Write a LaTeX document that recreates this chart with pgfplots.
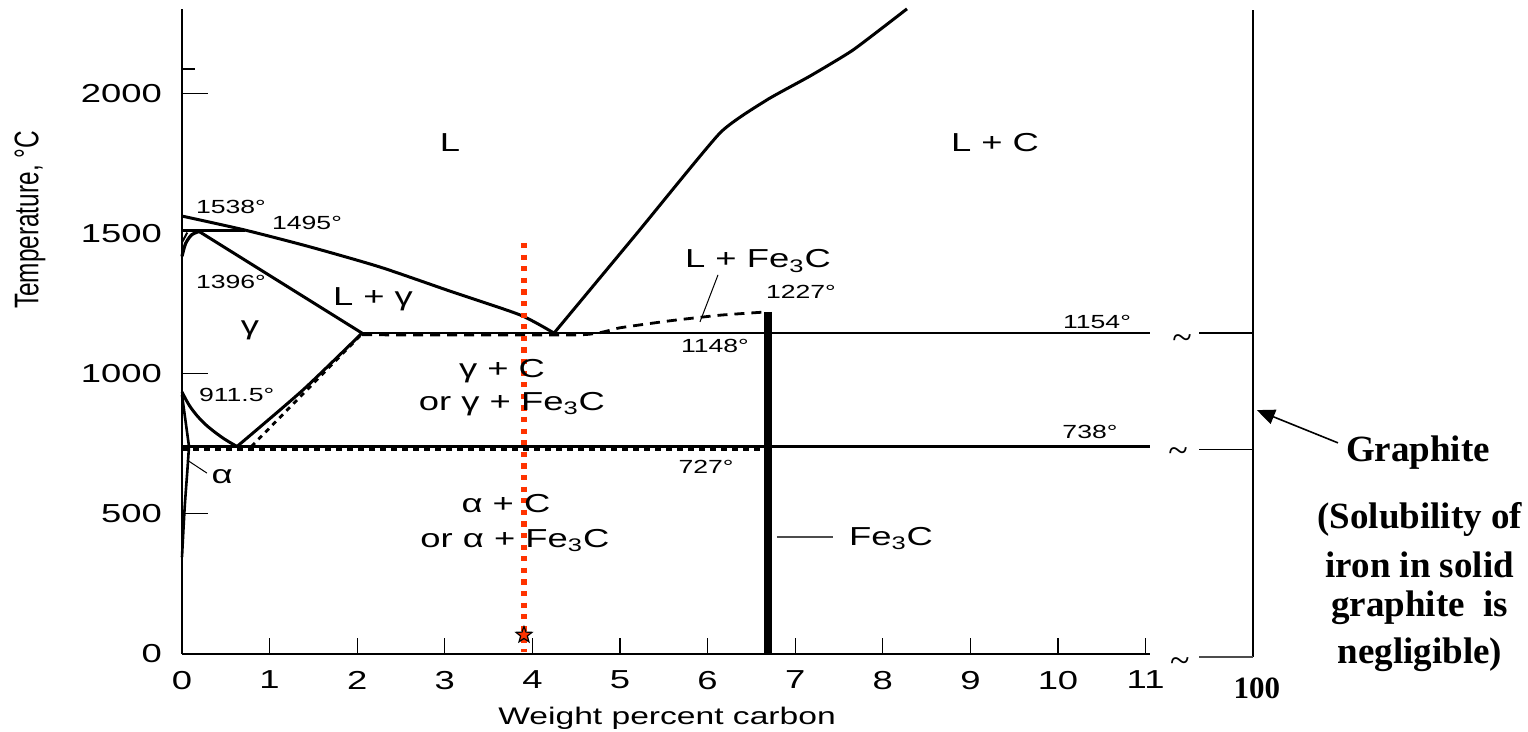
\documentclass[border=0pt]{standalone}
\usepackage{pgfplots}
\pgfplotsset{compat=1.18}
\usepackage{graphicx}
\usepackage{fontspec}
\setmainfont{Liberation Sans}[FakeStretch=1.4]
\newfontfamily\plainsans{Liberation Sans}
\newfontfamily\tnr{Liberation Serif}
\usetikzlibrary{arrows.meta}
\definecolor{redor}{RGB}{255,51,0}
\newcommand{\fs}[1]{\fontsize{#1}{#1}\selectfont}
\pgfdeclareplotmark{fstar}{%
  \pgfpathmoveto{\pgfpointpolar{90}{\pgfplotmarksize}}%
  \pgfpathlineto{\pgfpointpolar{126}{0.42\pgfplotmarksize}}%
  \pgfpathlineto{\pgfpointpolar{162}{\pgfplotmarksize}}%
  \pgfpathlineto{\pgfpointpolar{198}{0.42\pgfplotmarksize}}%
  \pgfpathlineto{\pgfpointpolar{234}{\pgfplotmarksize}}%
  \pgfpathlineto{\pgfpointpolar{270}{0.42\pgfplotmarksize}}%
  \pgfpathlineto{\pgfpointpolar{306}{\pgfplotmarksize}}%
  \pgfpathlineto{\pgfpointpolar{342}{0.42\pgfplotmarksize}}%
  \pgfpathlineto{\pgfpointpolar{18}{\pgfplotmarksize}}%
  \pgfpathlineto{\pgfpointpolar{54}{0.42\pgfplotmarksize}}%
  \pgfpathclose
  \pgfusepathqfillstroke
}
\begin{document}
\begin{tikzpicture}
\path[use as bounding box] (0,0) rectangle (764pt,366pt);
\begin{axis}[
  at={(91pt,39pt)}, anchor=south west,
  x=43.8pt, y=0.14pt,
  xmin=0, xmax=15, ymin=0, ymax=2330,
  axis lines=left, axis line style={draw=none},
  clip=false,
  xtick={0,1,2,3,4,5,6,7,8,9,10,11},
  xticklabels={0,1,2,3,4,5,6,7,8,9,10,11},
  ytick={0,500,1000,1500,2000},
  yticklabels={0,500,1000,1500,2000},
  tick align=inside, major tick length=8pt,
  xtick style={black, line width=0.6pt},
  ytick style={draw=none},
  ticklabel style={font=\fs{13}},
  xticklabel style={yshift=-5pt},
  yticklabel style={xshift=-6.5pt},
]
% axes frame pieces
\addplot[black, line width=1pt] coordinates {(0,0) (0,2305)};
\addplot[black, line width=0.9pt] coordinates {(0,0) (11.05,0)};
\addplot[black, line width=0.5pt] coordinates {(0,500) (0.297,500)};
\addplot[black, line width=0.5pt] coordinates {(0,1000) (0.297,1000)};
\addplot[black, line width=0.5pt] coordinates {(0,2000) (0.297,2000)};
\addplot[black, line width=1.2pt] coordinates {(0,2089) (0.148,2089)};
% right (graphite) axis
\addplot[black, line width=0.9pt] coordinates {(12.226,-11) (12.226,2300)};
\addplot[black, line width=0.9pt] coordinates {(11.61,1146) (12.226,1146)};
\addplot[black, line width=0.9pt] coordinates {(11.61,730) (12.226,730)};
\addplot[black!70, line width=0.9pt] coordinates {(11.61,-11) (12.226,-11)};
% liquidus (L / L+gamma)
\addplot[black, line width=1.5pt, line join=round, smooth, tension=0.4] coordinates {(0,1564) (0.719,1514) (1.461,1454) (2.26,1382) (3.059,1296) (3.858,1211) (4.247,1146)};
% peritectic line
\addplot[black, line width=1.5pt] coordinates {(0,1514) (0.719,1514)};
% delta region
\addplot[black, line width=1.6pt, line join=round, smooth] coordinates {(0,1420) (0.04,1465) (0.11,1497) (0.205,1510)};
\addplot[black, line width=1pt] coordinates {(0,1470) (0.06,1505)};
% solidus gamma
\addplot[black, line width=1.5pt] coordinates {(0.205,1507) (2.055,1146)};
% eutectic 1154
\addplot[black, line width=1.2pt] coordinates {(2.055,1146) (11.05,1146)};
% metastable 1148 + Fe3C liquidus (dashed)
\addplot[black, line width=1.4pt, dash pattern=on 5pt off 3.5pt, smooth, tension=0.3] coordinates {(2.055,1140) (4.543,1140) (5.0,1165) (5.571,1190) (6.142,1210) (6.69,1222)};
% graphite liquidus
\addplot[black, line width=1.5pt, line join=round, smooth, tension=0.3] coordinates {(4.247,1146) (5.2,1505) (6.142,1861) (6.678,1979) (7.169,2064) (7.660,2157) (8.276,2304)};
% Acm solid and dashed
\addplot[black, line width=1.5pt, line join=round, smooth, tension=0.4] coordinates {(2.055,1146) (1.381,943) (0.628,741)};
\addplot[black, line width=1.4pt, dash pattern=on 2.5pt off 2.5pt] coordinates {(2.032,1136) (0.776,736)};
% A3
\addplot[black, line width=1.5pt, line join=round, smooth, tension=0.6] coordinates {(0,936) (0.1,880) (0.25,825) (0.45,775) (0.628,741)};
% eutectoid 738 (stable) and 727 (metastable)
\addplot[black, line width=1.2pt] coordinates {(0,741) (11.05,741)};
\addplot[black, line width=1.6pt, dash pattern=on 3pt off 2.5pt] coordinates {(0,730) (6.69,730)};
% alpha region
\addplot[black, line width=1.3pt] coordinates {(0,925) (0.08,741)};
\addplot[black, line width=1.3pt, line join=round, smooth] coordinates {(0.08,741) (0.06,650) (0.03,520) (0,346)};
% Fe3C line
\addplot[black, line width=4pt] coordinates {(6.69,1222) (6.69,0)};
% leaders
\addplot[black, line width=0.5pt] coordinates {(0.057,693) (0.285,646)};
\addplot[black, line width=0.5pt] coordinates {(6.119,1354) (5.913,1186)};
\addplot[black!70, line width=0.6pt] coordinates {(6.792,418) (7.432,418)};
% red dotted composition line and star
\addplot[redor, line width=2.6pt, dash pattern=on 2.6pt off 3.2pt] coordinates {(3.904,1468) (3.904,7)};
\addplot[only marks, mark=fstar, mark size=4.2pt, mark options={fill=redor, draw=black, line width=0.6pt}] coordinates {(3.904,68)};
% labels
\node[font=\fs{13}] at (3.059,1825) {L};
\node[font=\fs{13}] at (9.281,1825) {L + C};
\node[font=\fs{9.5}] at (0.559,1596) {1538°};
\node[font=\fs{9.5}] at (1.427,1539) {1495°};
\node[font=\fs{9.5}] at (0.559,1327) {1396°};
\node[font=\fs{13}] at (2.18,1268) {L + γ};
\node[font=\fs{13}] at (0.776,1157) {γ};
\node[font=\fs{13}, anchor=base] at (6.575,1379) {L + Fe\textsubscript{3}C};
\node[font=\fs{9.5}] at (7.066,1293) {1227°};
\node[font=\fs{9.5}] at (10.445,1186) {1154°};
\node[font=\fs{9.5}] at (6.084,1100) {1148°};
\node[font=\fs{13}, anchor=base] at (3.653,989) {γ + C};
\node[font=\fs{13}, anchor=base] at (3.767,871) {or γ + Fe\textsubscript{3}C};
\node[font=\fs{9.5}] at (0.624,925) {911.5°};
\node[font=\fs{9.5}] at (10.365,793) {738°};
\node[font=\fs{9.5}] at (5.982,668) {727°};
\node[font=\fs{13}] at (0.457,632) {α};
\node[font=\fs{13}, anchor=base] at (3.699,507) {α + C};
\node[font=\fs{13}, anchor=base] at (3.80,382) {or α + Fe\textsubscript{3}C};
\node[font=\fs{13}, anchor=base] at (8.094,389) {Fe\textsubscript{3}C};
\node[rotate=90] at (-1.735,1550) {\scalebox{1}[1.4]{\plainsans\fs{12.2}Temperature, °C}};
\node[font=\fs{12}] at (5.537,-229) {Weight percent carbon};
% right annotations
\node[font={\tnr\fs{18}}] at (11.416,1114) {\textasciitilde};
\node[font={\tnr\fs{18}}] at (11.37,711) {\textasciitilde};
\node[font={\tnr\fs{18}}] at (11.39,-39) {\textasciitilde};
\node[font={\tnr\bfseries\fs{15.5}}] at (12.27,-121) {100};
\draw[black, line width=0.8pt, -{Triangle[length=9pt,width=7.5pt]}] (13.196,754) -- (12.27,871);
\node[font={\tnr\bfseries\fs{18.5}}] at (14.11,721) {Graphite};
\node[font={\tnr\bfseries\fs{18.5}}] at (14.13,479) {(Solubility of};
\node[font={\tnr\bfseries\fs{18.5}}] at (14.13,318) {iron in solid};
\node[font={\tnr\bfseries\fs{18.5}}] at (14.13,164) {graphite\ \ is};
\node[font={\tnr\bfseries\fs{18.5}}] at (14.13,-4) {negligible)};
\end{axis}
\end{tikzpicture}
\end{document}
